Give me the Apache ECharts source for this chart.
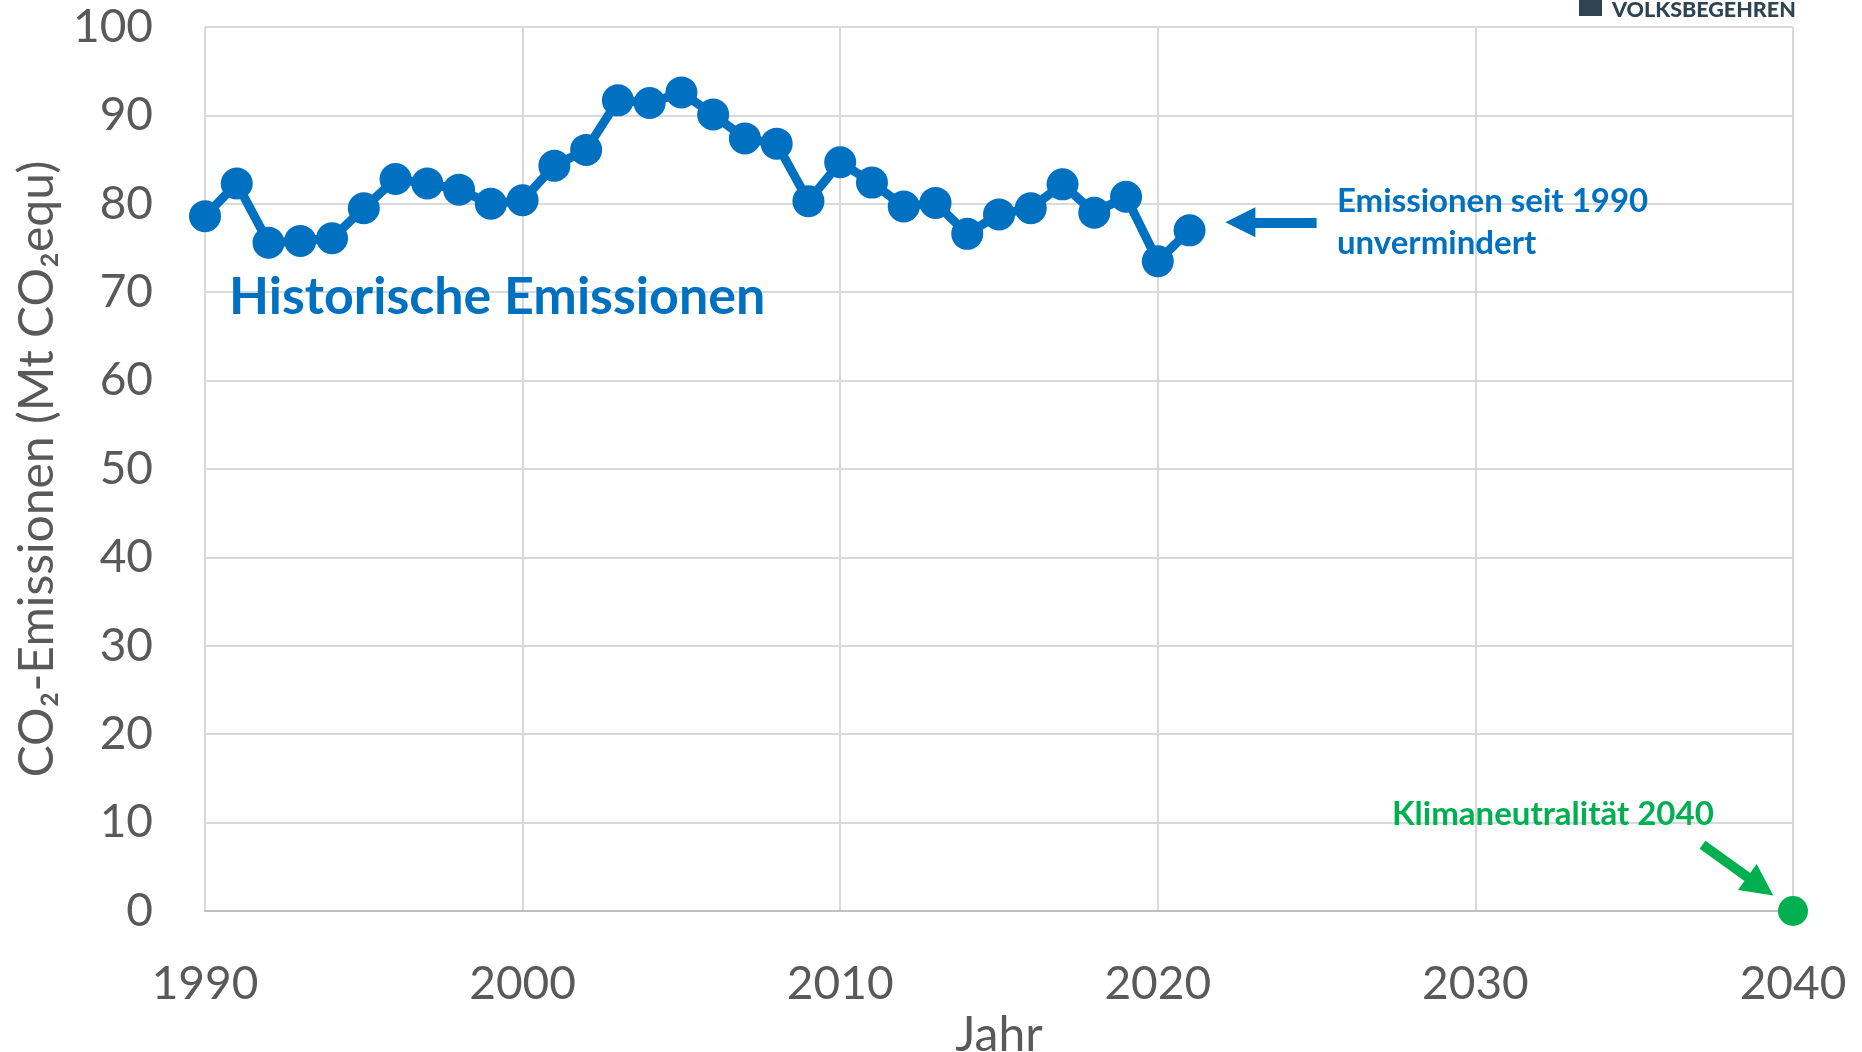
<!DOCTYPE html>
<html>
<head>
<meta charset="utf-8">
<title>CO2-Emissionen</title>
<script src="https://cdn.jsdelivr.net/npm/echarts@6/dist/echarts.min.js"></script>
<style>
html, body { margin: 0; padding: 0; background: #fff; }
#chart { width: 1862px; height: 1052px; }
</style>
</head>
<body>
<div id="chart"></div>
<script>
// historische Emissionen (Mt CO2equ)
var years = [1990, 1991, 1992, 1993, 1994, 1995, 1996, 1997, 1998, 1999,
	2000, 2001, 2002, 2003, 2004, 2005, 2006, 2007, 2008, 2009,
	2010, 2011, 2012, 2013, 2014, 2015, 2016, 2017, 2018, 2019,
	2020, 2021];
var emissions = [78.6, 82.3, 75.6, 75.8, 76.1, 79.5, 82.8, 82.3, 81.6, 80.0,
	80.4, 84.3, 86.1, 91.7, 91.4, 92.6, 90.1, 87.4, 86.8, 80.3,
	84.7, 82.4, 79.7, 80.1, 76.6, 78.8, 79.5, 82.2, 79.0, 80.8,
	73.5, 77.0];

// Ziel
var targetYears = [2040];
var targetValues = [0];

// Achsen
var xRange = [1990, 2040];
var yRange = [0, 100];
var tickStep = 10;

var blue = '#0070C0';
var green = '#00B050';
var grey = '#595959';
var font = 'Lato';

var histData = [];
for (var i = 0; i < years.length; i++) {
	histData.push([years[i], emissions[i]]);
}
var targetData = [];
for (var j = 0; j < targetYears.length; j++) {
	targetData.push([targetYears[j], targetValues[j]]);
}

var myChart = echarts.init(document.getElementById('chart'));

var options = {
	animation: false,
	grid: {
		left: 205,
		right: 69,
		top: 27,
		bottom: 141,
		containLabel: false,
		outerBoundsMode: 'none'
	},
	xAxis: {
		type: 'value',
		min: xRange[0],
		max: xRange[1],
		interval: tickStep,
		name: 'Jahr',
		nameLocation: 'middle',
		nameGap: 96,
		nameTextStyle: { color: grey, fontSize: 48, fontFamily: font },
		axisLine: { show: true, lineStyle: { color: '#BFBFBF', width: 2 } },
		axisTick: { show: false },
		axisLabel: {
			color: grey, fontSize: 46, fontFamily: font, margin: 50,
			formatter: function(v) { return String(v); }
		},
		splitLine: { show: true, lineStyle: { color: '#D9D9D9', width: 2 } }
	},
	yAxis: {
		type: 'value',
		min: yRange[0],
		max: yRange[1],
		interval: tickStep,
		name: 'CO₂-Emissionen (Mt CO₂equ)',
		nameLocation: 'middle',
		nameGap: 143,
		nameTextStyle: { color: grey, fontSize: 48, fontFamily: font },
		axisLine: { show: false },
		axisTick: { show: false },
		axisLabel: { color: grey, fontSize: 46, fontFamily: font, margin: 52 },
		splitLine: { show: true, lineStyle: { color: '#D9D9D9', width: 2 } }
	},
	series: [
		{
			name: 'Historische Emissionen',
			type: 'line',
			data: histData,
			symbol: 'circle',
			symbolSize: 32,
			lineStyle: { color: blue, width: 9 },
			itemStyle: { color: blue },
			z: 3,
			markLine: {
				silent: true,
				symbol: ['none', 'triangle'],
				symbolSize: 30,
				label: { show: false },
				lineStyle: { color: blue, width: 10, type: 'solid', opacity: 1 },
				data: [[{ coord: [2025.0, 77.9] }, { coord: [2022.6, 77.9] }]]
			}
		},
		{
			name: 'Klimaneutralität 2040',
			type: 'line',
			data: targetData,
			symbol: 'circle',
			symbolSize: 30,
			itemStyle: { color: green },
			z: 4,
			markLine: {
				silent: true,
				symbol: ['none', 'triangle'],
				symbolSize: 32,
				label: { show: false },
				lineStyle: { color: green, width: 10, type: 'solid', opacity: 1 },
				data: [[{ coord: [2037.15, 7.5] }, { coord: [2038.97, 2.8] }]]
			}
		}
	],
	graphic: [
		{
			type: 'text',
			x: 229,
			y: 297,
			z: 100,
			style: { text: 'Historische Emissionen', fill: blue, font: 'bold 52px Lato', verticalAlign: 'middle' }
		},
		{
			type: 'text',
			x: 1337,
			y: 201,
			z: 100,
			style: { text: 'Emissionen seit 1990', fill: blue, font: 'bold 33px Lato', verticalAlign: 'middle' }
		},
		{
			type: 'text',
			x: 1337,
			y: 243,
			z: 100,
			style: { text: 'unvermindert', fill: blue, font: 'bold 33px Lato', verticalAlign: 'middle' }
		},
		{
			type: 'text',
			x: 1392,
			y: 814,
			z: 100,
			style: { text: 'Klimaneutralität 2040', fill: green, font: 'bold 33px Lato', verticalAlign: 'middle' }
		},
		{
			type: 'rect',
			x: 1579,
			y: 0,
			z: 100,
			shape: { width: 23, height: 16 },
			style: { fill: '#2E4453' }
		},
		{
			type: 'text',
			x: 1612,
			y: 21,
			z: 100,
			style: { text: 'VOLKSBEGEHREN', fill: '#2E4453', font: '900 21.5px Lato', verticalAlign: 'bottom' }
		}
	]
};

myChart.setOption(options);
</script>
</body>
</html>
